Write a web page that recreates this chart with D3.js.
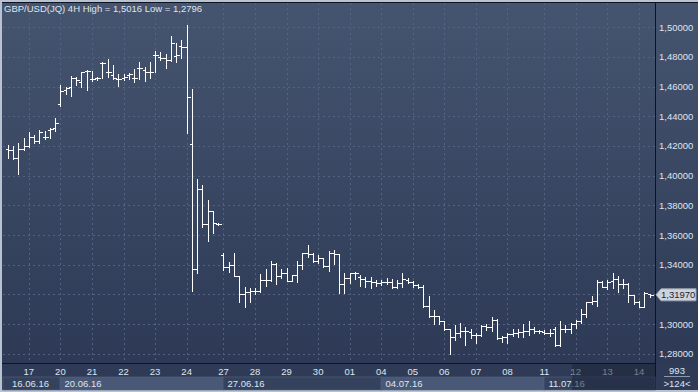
<!DOCTYPE html>
<html><head><meta charset="utf-8">
<script src="https://cdnjs.cloudflare.com/ajax/libs/d3/7.8.5/d3.min.js"></script>
<style>html,body{margin:0;padding:0;background:#2e3a55;overflow:hidden}svg{display:block}text{font-family:"Liberation Sans",Arial,sans-serif}</style>
</head><body><svg id="c" width="698" height="392"></svg>
<script>
// ---- data (GBP/USD 4H OHLC) ----
const opens = [1.4178,1.4173,1.4117,1.4178,1.4200,1.4263,1.4234,1.4263,1.4308,1.4319,
1.4481,1.4577,1.4600,1.4656,1.4633,1.4705,1.4651,1.4656,1.4757,1.4697,
1.4678,1.4651,1.4660,1.4678,1.4660,1.4728,1.4712,1.4701,1.4813,1.4802,
1.4791,1.4780,1.4809,1.4876,1.4869,1.4213,1.3369,1.3910,1.3674,1.3760,
1.3674,1.3465,1.3382,1.3398,1.3324,1.3202,1.3218,1.3224,1.3224,1.3297,
1.3297,1.3404,1.3324,1.3342,1.3292,1.3330,1.3398,1.3477,1.3472,1.3427,
1.3443,1.3391,1.3477,1.3472,1.3270,1.3308,1.3342,1.3319,1.3301,1.3292,
1.3285,1.3278,1.3281,1.3283,1.3247,1.3278,1.3297,1.3285,1.3263,1.3247,
1.3121,1.3054,1.3054,1.3022,1.2964,1.2910,1.2941,1.2955,1.2948,1.2926,
1.2926,1.2988,1.2982,1.3027,1.2904,1.2910,1.2933,1.2941,1.2948,1.2953,
1.2964,1.2955,1.2948,1.2941,1.2964,1.2856,1.2964,1.2964,1.3000,1.3020,
1.3067,1.3150,1.3157,1.3285,1.3247,1.3292,1.3301,1.3270,1.3270,1.3195,
1.3150,1.3117,1.3202];
const highs = [1.4207,1.4200,1.4222,1.4252,1.4292,1.4274,1.4308,1.4301,1.4323,1.4387,
1.4611,1.4600,1.4672,1.4667,1.4697,1.4712,1.4705,1.4667,1.4764,1.4786,
1.4746,1.4683,1.4683,1.4690,1.4719,1.4768,1.4734,1.4768,1.4840,1.4831,
1.4818,1.4943,1.4892,1.4914,1.5016,1.4584,1.3977,1.3937,1.3836,1.3760,
1.3679,1.3477,1.3420,1.3481,1.3324,1.3251,1.3241,1.3241,1.3337,1.3369,
1.3427,1.3409,1.3369,1.3375,1.3330,1.3427,1.3481,1.3532,1.3481,1.3465,
1.3443,1.3494,1.3499,1.3472,1.3344,1.3346,1.3348,1.3330,1.3319,1.3319,
1.3297,1.3297,1.3308,1.3301,1.3297,1.3342,1.3308,1.3292,1.3270,1.3263,
1.3189,1.3094,1.3054,1.3022,1.2966,1.2993,1.3009,1.2978,1.2964,1.2941,
1.2993,1.2998,1.3045,1.3032,1.2919,1.2939,1.2964,1.2964,1.3000,1.3022,
1.2982,1.2960,1.2960,1.2964,1.2978,1.3022,1.2993,1.3009,1.3027,1.3099,
1.3150,1.3189,1.3297,1.3292,1.3297,1.3342,1.3324,1.3301,1.3278,1.3195,
1.3157,1.3218,1.3202];
const lows = [1.4117,1.4110,1.4009,1.4173,1.4195,1.4218,1.4218,1.4247,1.4256,1.4301,
1.4472,1.4548,1.4539,1.4611,1.4600,1.4577,1.4638,1.4645,1.4656,1.4667,
1.4651,1.4606,1.4645,1.4651,1.4633,1.4651,1.4640,1.4656,1.4701,1.4780,
1.4728,1.4775,1.4768,1.4791,1.4290,1.3224,1.3346,1.3652,1.3561,1.3615,
1.3667,1.3364,1.3353,1.3324,1.3150,1.3117,1.3150,1.3202,1.3218,1.3256,
1.3292,1.3270,1.3308,1.3292,1.3292,1.3285,1.3369,1.3450,1.3420,1.3413,
1.3382,1.3359,1.3404,1.3211,1.3212,1.3274,1.3301,1.3256,1.3247,1.3241,
1.3256,1.3263,1.3270,1.3241,1.3241,1.3247,1.3274,1.3251,1.3241,1.3113,
1.3049,1.3000,1.3000,1.2960,1.2796,1.2892,1.2914,1.2858,1.2904,1.2874,
1.2919,1.2960,1.2955,1.2897,1.2881,1.2874,1.2919,1.2914,1.2910,1.2926,
1.2937,1.2937,1.2933,1.2919,1.2852,1.2852,1.2948,1.2941,1.2971,1.3009,
1.3045,1.3135,1.3121,1.3247,1.3234,1.3241,1.3218,1.3241,1.3150,1.3135,
1.3113,1.3117,1.3184];
const closes = [1.4173,1.4117,1.4178,1.4200,1.4263,1.4234,1.4296,1.4263,1.4312,1.4353,
1.4571,1.4593,1.4660,1.4645,1.4697,1.4705,1.4651,1.4660,1.4757,1.4697,
1.4660,1.4651,1.4665,1.4683,1.4656,1.4728,1.4701,1.4701,1.4813,1.4795,
1.4780,1.4896,1.4813,1.4869,1.4528,1.3369,1.3910,1.3674,1.3760,1.3679,
1.3672,1.3382,1.3398,1.3324,1.3202,1.3218,1.3224,1.3224,1.3297,1.3297,
1.3404,1.3324,1.3342,1.3292,1.3330,1.3398,1.3477,1.3472,1.3427,1.3443,
1.3391,1.3477,1.3472,1.3270,1.3308,1.3342,1.3342,1.3301,1.3292,1.3285,
1.3274,1.3281,1.3283,1.3247,1.3278,1.3301,1.3285,1.3263,1.3247,1.3121,
1.3054,1.3054,1.3022,1.2964,1.2910,1.2941,1.2955,1.2953,1.2926,1.2926,
1.2988,1.2982,1.3027,1.2904,1.2910,1.2933,1.2941,1.2948,1.2953,1.2964,
1.2955,1.2953,1.2941,1.2937,1.2856,1.2964,1.2964,1.3000,1.3020,1.3067,
1.3150,1.3157,1.3285,1.3247,1.3285,1.3301,1.3270,1.3270,1.3195,1.3150,
1.3117,1.3207,1.3197];
const dayLabels = ["17","20","21","22","23","24","27","28","29","30","01","04","05","06","07","08","11","12","13","14"];
const dayStarts = [4,10,16,22,28,34,41,47,53,59,65,71,77,83,89,95,102,108,114,120];
const weekLabels = ["16.06.16","20.06.16","27.06.16","04.07.16","11.07.16"];
const weekStarts = [0,10,41,71,102];
const yTicks = [1.28,1.30,1.32,1.34,1.36,1.38,1.40,1.42,1.44,1.46,1.48,1.50];
const title = "GBP/USD(JQ) 4H High = 1,5016 Low = 1,2796";
const lastPrice = 1.3197;
const barCountText = "993", visibleText = ">124<";

// ---- drawing ----
const W = 698, H = 392;
const plot = {l: 3, r: 655, t: 3, b: 363};
const svg = d3.select("#c");
const defs = svg.append("defs");
const g1 = defs.append("linearGradient").attr("id","bg").attr("x1",0).attr("y1",0).attr("x2",0).attr("y2",1);
g1.append("stop").attr("offset","0%").attr("stop-color","#45546f");
g1.append("stop").attr("offset","100%").attr("stop-color","#2c3853");

const x = d3.scaleLinear().domain([0, opens.length - 1]).range([7.8, 7.8 + (opens.length - 1) * 5.26]);
const y = d3.scaleLinear().domain([1.28, 1.50]).range([353.7, 27.3]);
const fmt = v => d3.format(".5f")(v).replace(".", ",");
const px = v => Math.round(v) + 0.5;
const yp = y(lastPrice);

// frame
svg.append("rect").attr("width", W).attr("height", H).attr("fill", "#b9c2d0");
svg.append("rect").attr("x", 2).attr("y", 2).attr("width", W - 2).attr("height", H - 4).attr("fill", "url(#bg)");
// bottom axis panel
svg.append("rect").attr("x", 2).attr("y", plot.b).attr("width", W - 2).attr("height", H - 2 - plot.b).attr("fill", "#2f3b56");

// grid
const grid = svg.append("g").attr("stroke", "#58678a").attr("stroke-width", 1).attr("stroke-dasharray", "2,3").attr("opacity", 0.85);
grid.selectAll("line.h").data(yTicks).join("line").attr("class","h")
  .attr("x1", plot.l).attr("x2", plot.r).attr("y1", d => px(y(d))).attr("y2", d => px(y(d)));
grid.selectAll("line.v").data(dayStarts).join("line").attr("class","v")
  .attr("y1", plot.t).attr("y2", plot.b).attr("x1", d => px(x(d))).attr("x2", d => px(x(d)));

// OHLC bars
const bars = svg.append("g").attr("stroke", "#ffffff").attr("stroke-width", 1).attr("fill", "none").attr("shape-rendering", "crispEdges");
const idx = d3.range(opens.length);
bars.selectAll("path").data(idx).join("path").attr("d", i => {
  const cx = px(x(i));
  const yh = Math.round(y(highs[i])), yl = Math.round(y(lows[i]));
  const yo = px(y(opens[i])), yc = px(y(closes[i]));
  return `M${cx},${yh}V${yl + 1}M${cx - 3},${yo}H${cx}M${cx},${yc}H${cx + 3}`;
});

// borders
svg.append("line").attr("x1", 2).attr("x2", W).attr("y1", 2.5).attr("y2", 2.5).attr("stroke", "#0d1320");
svg.append("line").attr("x1", plot.r + 0.5).attr("x2", plot.r + 0.5).attr("y1", 2).attr("y2", H - 2).attr("stroke", "#0d1320");
svg.append("line").attr("x1", 2).attr("x2", plot.r).attr("y1", plot.b + 0.5).attr("y2", plot.b + 0.5).attr("stroke", "#0d1320");

// title
svg.append("text").attr("x", 4).attr("y", 12).attr("fill", "#dfe5ef").attr("font-size", "9.5px").text(title);

// y axis labels (the one under the price tag is hidden, as in the original)
svg.append("g").selectAll("text").data(yTicks.filter(d => Math.abs(y(d) - yp) > 11)).join("text")
  .attr("x", 659).attr("y", d => y(d) + 3.5).attr("fill", "#dfe5ef").attr("font-size", "9.5px").text(fmt);

// current price tag
svg.append("path").attr("d", `M656,${yp}L661,${yp - 6}H696V${yp + 6}H661Z`).attr("fill", "#cfd4dc").attr("stroke", "#9aa3b3");
svg.append("text").attr("x", 661).attr("y", yp + 3.5).attr("fill", "#1b2233").attr("font-size", "9.5px").text(fmt(lastPrice));

// bottom axis: week boxes
const weekEnds = weekStarts.slice(1).concat([opens.length]);
const wk = svg.append("g");
wk.selectAll("rect").data(weekStarts).join("rect")
  .attr("x", (d, i) => i === 0 ? 3 : px(x(d)) - 0.5).attr("y", 377)
  .attr("width", (d, i) => (i === weekStarts.length - 1 ? plot.r : px(x(weekEnds[i]))) - (i === 0 ? 3 : px(x(d)) - 0.5))
  .attr("height", 13)
  .attr("fill", (d, i) => i % 2 === 1 ? "#4a5877" : "#35425e")
  .attr("stroke", "#55637f").attr("stroke-width", 0.6);
wk.selectAll("text").data(weekLabels).join("text")
  .attr("x", (d, i) => i === 0 ? 12 : px(x(weekStarts[i])) + 4).attr("y", 386.5)
  .attr("fill", "#dfe5ef").attr("font-size", "9.5px").text(d => d);

// day labels
svg.append("g").selectAll("text").data(dayLabels).join("text")
  .attr("x", (d, i) => x(dayStarts[i])).attr("y", 375).attr("text-anchor", "middle")
  .attr("fill", "#dfe5ef").attr("font-size", "9.5px").text(d => d);

// dimmed overlay on latest range
svg.append("rect").attr("x", 572).attr("y", 364).attr("width", plot.r - 572).attr("height", 26)
  .attr("fill", "#1c2538").attr("opacity", 0.55);

// bottom-right counters
svg.append("text").attr("x", 677).attr("y", 374).attr("text-anchor", "middle").attr("fill", "#dfe5ef").attr("font-size", "9.5px").text(barCountText);
svg.append("line").attr("x1", 664).attr("x2", 690).attr("y1", 376.5).attr("y2", 376.5).attr("stroke", "#8c98ad");
svg.append("text").attr("x", 677).attr("y", 387).attr("text-anchor", "middle").attr("fill", "#dfe5ef").attr("font-size", "9.5px").text(visibleText);
</script></body></html>
